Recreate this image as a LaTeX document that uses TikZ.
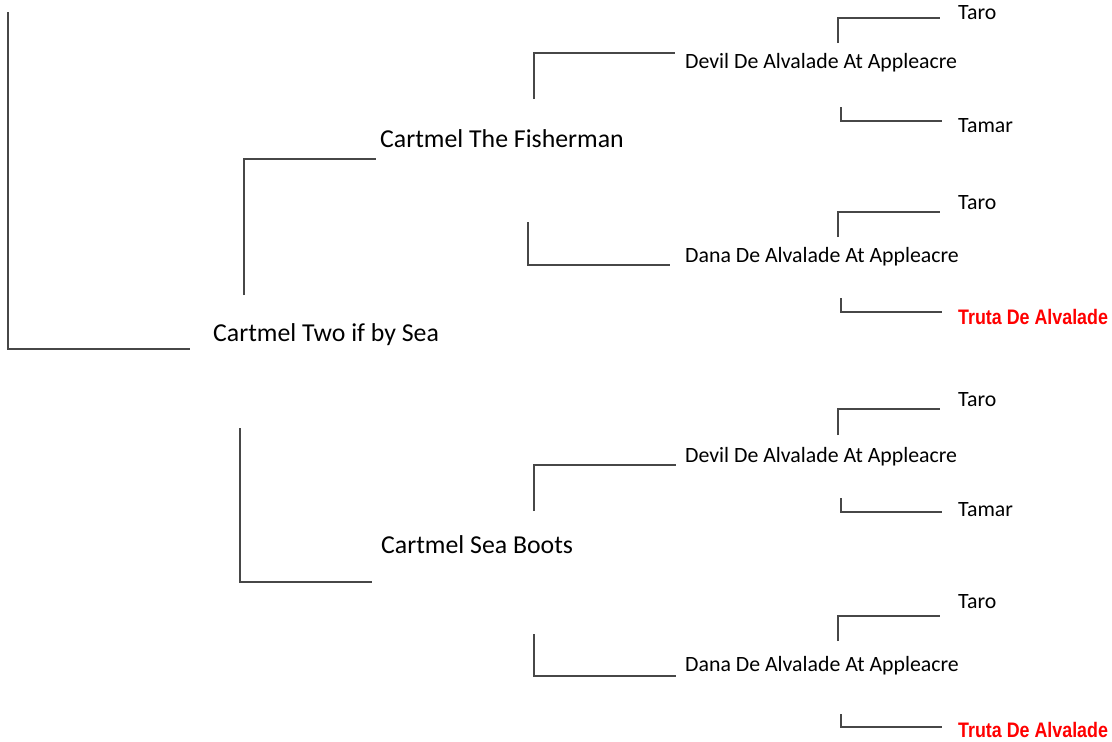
\documentclass[tikz,border=0pt]{standalone}
\usepackage{fontspec}
\setmainfont{Carlito}
\newfontfamily\redfont[FakeStretch=0.85]{Liberation Sans}
\begin{document}
\begin{tikzpicture}[x=1pt,y=-1pt,
  big/.style={font=\fontsize{25.8}{30}\selectfont, inner sep=0pt, anchor=base west},
  small/.style={font=\fontsize{21.8}{26}\selectfont, inner sep=0pt, anchor=base west},
  hl/.style={font=\redfont\bfseries\fontsize{21}{25}\selectfont, text=red, inner sep=0pt, anchor=base west},
  link/.style={draw=black!72, line width=1.1pt}]
\useasboundingbox (0,0) rectangle (1112,742);
% names
\node[big] (root) at (213,341) {Cartmel Two if by Sea};
\node[big] (fish) at (380,147) {Cartmel The Fisherman};
\node[big] (boots) at (381,553) {Cartmel Sea Boots};
\node[small] (devA) at (685,68) {Devil De Alvalade At Appleacre};
\node[small] (danA) at (685,262) {Dana De Alvalade At Appleacre};
\node[small] (devB) at (685,462) {Devil De Alvalade At Appleacre};
\node[small] (danB) at (685,671) {Dana De Alvalade At Appleacre};
\node[small] (taroA) at (958,19) {Taro};
\node[small] (tamarA) at (958,132) {Tamar};
\node[small] (taroB) at (958,209) {Taro};
\node[hl] (trutaA) at (958,324) {Truta De Alvalade};
\node[small] (taroC) at (958,406) {Taro};
\node[small] (tamarB) at (958,516) {Tamar};
\node[small] (taroD) at (958,608) {Taro};
\node[hl] (trutaB) at (958,737) {Truta De Alvalade};
% bracket end points
\coordinate (r0) at (8,12);      \coordinate (r1) at (190,349);
\coordinate (f0) at (244,295);   \coordinate (f1) at (376,159);
\coordinate (b0) at (240,428);   \coordinate (b1) at (372,582);
\coordinate (dva0) at (534,99);  \coordinate (dva1) at (675,53);
\coordinate (dna0) at (528,222); \coordinate (dna1) at (670,265);
\coordinate (dvb0) at (534,511); \coordinate (dvb1) at (676,465);
\coordinate (dnb0) at (534,634); \coordinate (dnb1) at (676,676);
\coordinate (ta0) at (838,43);   \coordinate (ta1) at (940,18);
\coordinate (ma0) at (841,107);  \coordinate (ma1) at (942,121);
\coordinate (tb0) at (838,237);  \coordinate (tb1) at (940,212);
\coordinate (ua0) at (841,298);  \coordinate (ua1) at (942,312);
\coordinate (tc0) at (838,435);  \coordinate (tc1) at (940,409);
\coordinate (mb0) at (841,498);  \coordinate (mb1) at (942,512);
\coordinate (td0) at (838,641);  \coordinate (td1) at (940,616);
\coordinate (ub0) at (841,714);  \coordinate (ub1) at (942,727);
% connectors
\foreach \a/\b in {r0/r1,f0/f1,b0/b1,dva0/dva1,dna0/dna1,dvb0/dvb1,dnb0/dnb1,
  ta0/ta1,ma0/ma1,tb0/tb1,ua0/ua1,tc0/tc1,mb0/mb1,td0/td1,ub0/ub1}
  \draw[link] (\a) |- (\b);
\end{tikzpicture}
\end{document}
